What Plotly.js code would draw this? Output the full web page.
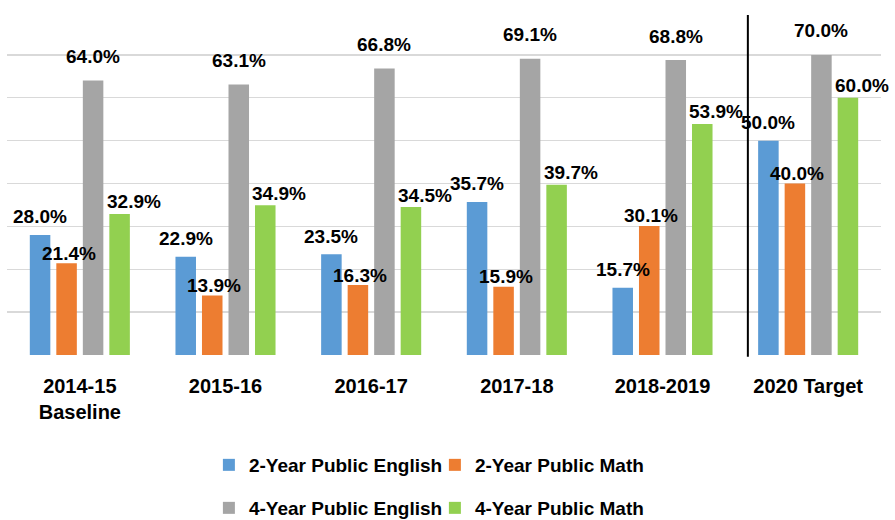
<!DOCTYPE html>
<html>
<head>
<meta charset="utf-8">
<script src="https://cdn.plot.ly/plotly-3.0.1.min.js"></script>
<style>html,body{margin:0;padding:0;background:#fff;}#chart{width:895px;height:520px;}</style>
</head>
<body>
<div id="chart"></div>
<script>
const categories = ['2014-15<br>Baseline', '2015-16', '2016-17', '2017-18', '2018-2019', '2020 Target'];
const seriesNames = ['2-Year Public English', '2-Year Public Math', '4-Year Public English', '4-Year Public Math'];
const twoYearEnglish = [28.0, 22.9, 23.5, 35.7, 15.7, 50.0];
const twoYearMath = [21.4, 13.9, 16.3, 15.9, 30.1, 40.0];
const fourYearEnglish = [64.0, 63.1, 66.8, 69.1, 68.8, 70.0];
const fourYearMath = [32.9, 34.9, 34.5, 39.7, 53.9, 60.0];

const seriesValues = [twoYearEnglish, twoYearMath, fourYearEnglish, fourYearMath];
const colors = ['#5B9BD5', '#ED7D31', '#A5A5A5', '#92D050'];
const legendIds = ['legend', 'legend', 'legend2', 'legend2'];
const labelYShift = [18, 10, 24, 12];
const labelXShift = [0, 2, 0, 14];
const FONT = 'Liberation Sans, Arial, sans-serif';
const bargap = 0.272;
const bargroupgap = 0.226;

const traces = seriesValues.map((vals, s) => ({
  type: 'bar',
  name: seriesNames[s],
  x: categories,
  y: vals,
  marker: {color: colors[s]},
  legend: legendIds[s],
  hoverinfo: 'skip'
}));

const slot = (1 - bargap) / seriesValues.length;
const annotations = [];
seriesValues.forEach((vals, s) => {
  vals.forEach((v, j) => {
    annotations.push({
      xref: 'x', yref: 'y',
      x: j + (s - (seriesValues.length - 1) / 2) * slot,
      y: v,
      text: v.toFixed(1) + '%',
      showarrow: false,
      xanchor: 'center', yanchor: 'middle',
      xshift: labelXShift[s], yshift: labelYShift[s],
      font: {family: FONT, size: 19, color: '#000', weight: 'bold'}
    });
  });
});

const legendCommon = {
  orientation: 'h',
  xref: 'paper', yref: 'container',
  xanchor: 'left', yanchor: 'middle',
  x: 0.231,
  entrywidth: 181, entrywidthmode: 'pixels',
  font: {family: FONT, size: 19, color: '#000', weight: 'bold'},
  bgcolor: 'rgba(0,0,0,0)',
  traceorder: 'normal'
};

const layout = {
  width: 895, height: 520,
  margin: {l: 7, r: 14, t: 12, b: 165, autoexpand: false},
  paper_bgcolor: '#fff', plot_bgcolor: '#fff',
  barmode: 'group',
  bargap: bargap, bargroupgap: bargroupgap,
  xaxis: {
    type: 'category',
    range: [-0.5, categories.length - 0.5], autorange: false,
    showgrid: false, zeroline: false, showline: false,
    ticks: '', ticklabelstandoff: 17,
    tickfont: {family: FONT, size: 20, color: '#000', weight: 'bold'}
  },
  yaxis: {
    range: [0, 80], autorange: false, dtick: 10,
    showticklabels: false, ticks: '',
    showgrid: true, gridcolor: '#D9D9D9', gridwidth: 1.3,
    zeroline: false, showline: false
  },
  legend: Object.assign({}, legendCommon, {y: 1 - 465 / 520}),
  legend2: Object.assign({}, legendCommon, {y: 1 - 508 / 520}),
  annotations: annotations,
  shapes: [{
    type: 'line', xref: 'x', yref: 'paper',
    x0: 4.586, x1: 4.586, y0: -0.005, y1: 0.991,
    line: {color: '#000', width: 2}
  }]
};

Plotly.newPlot('chart', traces, layout, {displayModeBar: false, staticPlot: true});
</script>
</body>
</html>
